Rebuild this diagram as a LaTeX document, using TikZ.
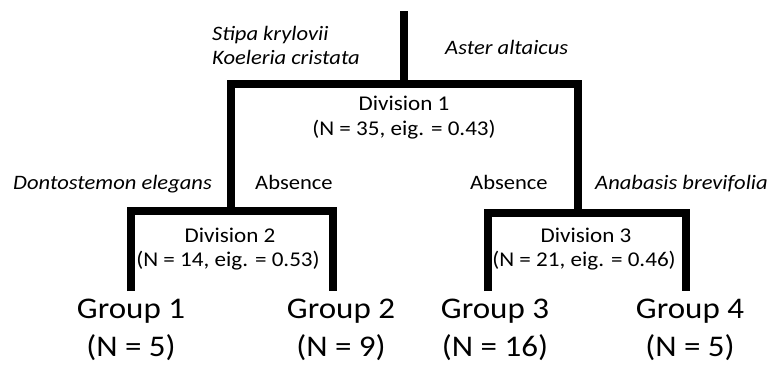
\documentclass[tikz,border=0pt]{standalone}
\usepackage{fontspec}
\setmainfont{Carlito}[FakeStretch=1.1]
\begin{document}
\tikzset{
  branch/.style={line width=8pt, line join=miter, line cap=butt},
  sp/.style={inner sep=0pt, font=\fontsize{20.5}{24}\selectfont\itshape, anchor=base west},
  absn/.style={inner sep=0pt, font=\fontsize{20.5}{24}\selectfont, anchor=base west},
  divl/.style={inner sep=0pt, font=\fontsize{21}{25}\selectfont, anchor=base},
  grp/.style={inner sep=0pt, font=\fontsize{30}{36}\selectfont, anchor=base},
}
\begin{tikzpicture}[x=1pt,y=-1pt]
\useasboundingbox (0,0) rectangle (771,365);
% junction coordinates
\coordinate (root) at (404,11);
\coordinate (j1) at (404,84);
\coordinate (j2) at (231,211);
\coordinate (j3) at (578,213);
\coordinate (e1) at (131,291);
\coordinate (e2) at (333,291);
\coordinate (e3) at (488,291);
\coordinate (e4) at (686,291);
% tree
\draw[branch] (root) -- (j1);
\draw[branch] (j2) |- (j1) -| (j3);
\draw[branch] (e1) |- (j2) -| (e2);
\draw[branch] (e3) |- (j3) -| (e4);
% species labels
\node[sp] (s1) at (212,40) {Stipa krylovii};
\node[sp] (s2) at (212,64) {Koeleria cristata};
\node[sp] (s3) at (445,54) {Aster altaicus};
\node[sp] (s4) at (13,189) {Dontostemon elegans};
\node[absn] (a1) at (255,189) {Absence};
\node[absn] (a2) at (470,189) {Absence};
\node[sp] (s5) at (595,189) {Anabasis brevifolia};
% divisions
\node[divl] (d1) at (404,110) {Division 1};
\node[divl] (d1n) at (404,135) {(N = 35, eig. = 0.43)};
\node[divl] (d2) at (230,242) {Division 2};
\node[divl] (d2n) at (228,266) {(N = 14, eig. = 0.53)};
\node[divl] (d3) at (586,242) {Division 3};
\node[divl] (d3n) at (584,266) {(N = 21, eig. = 0.46)};
% groups
\node[grp] (g1) at (131,318) {Group 1};
\node[grp] (g1n) at (131,356) {(N = 5)};
\node[grp] (g2) at (341,318) {Group 2};
\node[grp] (g2n) at (341,356) {(N = 9)};
\node[grp] (g3) at (495,318) {Group 3};
\node[grp] (g3n) at (495,356) {(N = 16)};
\node[grp] (g4) at (690,318) {Group 4};
\node[grp] (g4n) at (690,356) {(N = 5)};
\end{tikzpicture}
\end{document}
